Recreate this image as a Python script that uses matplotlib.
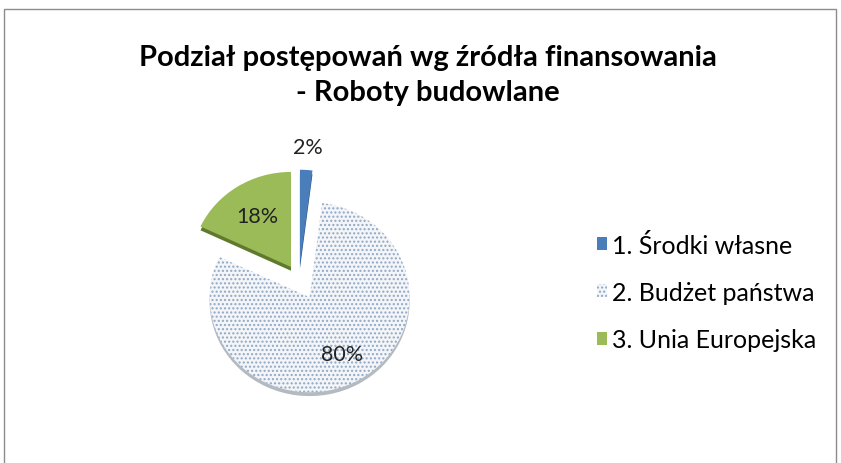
import matplotlib
matplotlib.use("Agg")
from matplotlib import pyplot as plt
from matplotlib.patches import Patch, Rectangle
import numpy as np

plt.rcParams['font.family'] = ['Lato', 'DejaVu Sans']
plt.rcParams['hatch.linewidth'] = 1.0

title = "Podział postępowań wg źródła finansowania\n- Roboty budowlane"
labels = ["1. Środki własne", "2. Budżet państwa", "3. Unia Europejska"]
shares = [2, 80, 18]
explode = [0.15, 0.22, 0.15]
label_dist = [1.24, 0.68, 0.63]

top_colors = ['#4a7ebb', '#f3f5f8', '#9bbb59']
side_colors = ['#2c5286', '#b4bac2', '#5f7a2c']
hatch_colors = ['#4a7ebb', '#90a8c4', '#9bbb59']
hatches = [None, '....', None]

fig = plt.figure(figsize=(8.41, 4.64), dpi=100)
ax = fig.add_axes([0, 0, 1, 1])

# fake 3d: darker copy a little lower
side, _ = ax.pie(shares, explode=explode, startangle=90, counterclock=False,
                 colors=side_colors, center=(0, -0.04),
                 wedgeprops=dict(linewidth=0))

wedges, texts, autotexts = ax.pie(shares, explode=explode, startangle=90,
                                  counterclock=False, colors=top_colors,
                                  autopct='%d%%',
                                  textprops=dict(fontsize=15.5, color='#222222'),
                                  wedgeprops=dict(linewidth=0))

for w, t, d, h, hc in zip(wedges, autotexts, label_dist, hatches, hatch_colors):
    if h:
        w.set_hatch(h)
        w.set_edgecolor(hc)
    mid = np.deg2rad((w.theta1 + w.theta2) / 2)
    cx, cy = w.center
    t.set_position((cx + d * np.cos(mid), cy + d * np.sin(mid)))

ax.set_aspect('auto')
ax.set_xlim(-2.99, 5.42)
ax.set_ylim(-1.937, 2.947)
ax.axis('off')

fig.text(0.509, 0.837, title, ha='center', va='center', fontsize=21,
         fontweight='bold', linespacing=1.45)

handles = [Patch(facecolor=top_colors[i], edgecolor=hatch_colors[i] if hatches[i] else 'none',
                 hatch=hatches[i], linewidth=0) for i in range(3)]
fig.legend(handles, labels, loc='center left', bbox_to_anchor=(0.683, 0.369),
           frameon=False, fontsize=18, handlelength=0.42, handleheight=0.42,
           handletextpad=0.18, labelspacing=0.97)

fig.patches.append(Rectangle((0.005, -0.01), 0.989, 0.988, transform=fig.transFigure,
                             fill=False, edgecolor='#8c8c8c', linewidth=1))

fig.savefig("out.png", dpi=100)
